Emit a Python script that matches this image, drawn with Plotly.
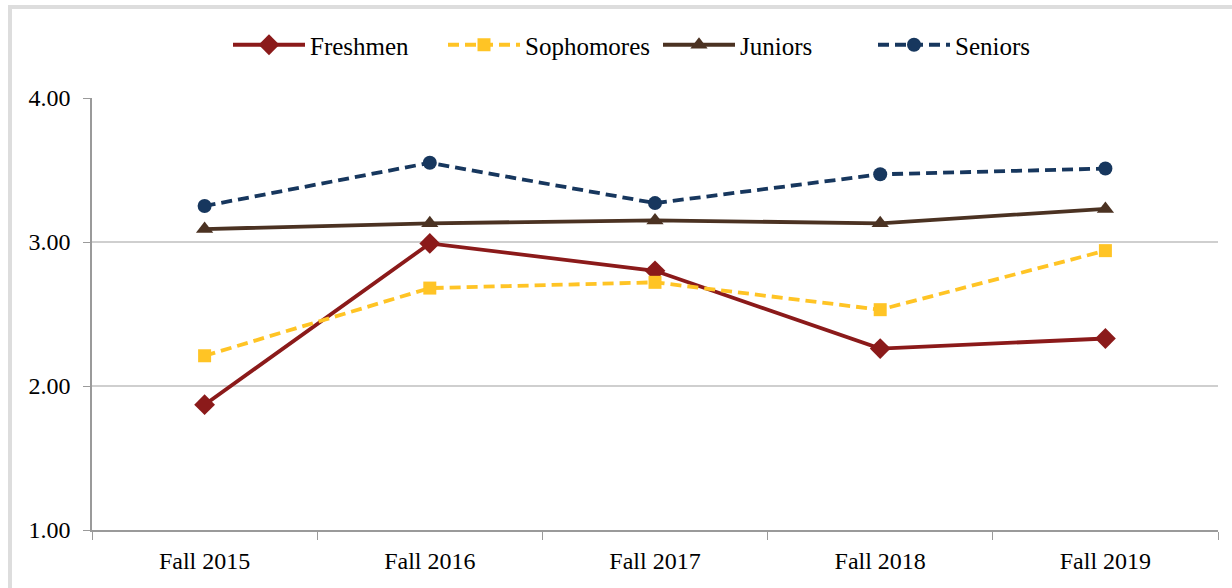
import plotly.graph_objects as go

categories = ["Fall 2015", "Fall 2016", "Fall 2017", "Fall 2018", "Fall 2019"]
freshmen = [1.87, 2.99, 2.80, 2.26, 2.33]
sophomores = [2.21, 2.68, 2.72, 2.53, 2.94]
juniors = [3.09, 3.13, 3.15, 3.13, 3.23]
seniors = [3.25, 3.55, 3.27, 3.47, 3.51]
y_ticks = [1.0, 2.0, 3.0, 4.0]
y_tick_labels = ["1.00", "2.00", "3.00", "4.00"]

FONT = "Liberation Serif"
W, H = 1232, 588
L, R, T, B = 92, 14, 98, 58
PW, PH = W - L - R, H - T - B

def px_x(p):
    return (p - L) / PW

def px_y(p):
    return (H - B - p) / PH

series = [
    ("Freshmen", freshmen, "#8B1A1A", "solid", "diamond", 16),
    ("Sophomores", sophomores, "#FFC425", "11px,6px", "square", 13),
    ("Juniors", juniors, "#4B3222", "solid", "triangle-up", 15),
    ("Seniors", seniors, "#17375E", "11px,6px", "circle", 14),
]

fig = go.Figure()
for name, vals, color, dash, sym, size in series:
    fig.add_trace(go.Scatter(
        x=categories, y=vals, name=name, mode="lines+markers",
        line=dict(color=color, width=3.8, dash=dash),
        marker=dict(symbol=sym, size=size, color=color, line=dict(width=0)),
    ))

fig.update_layout(
    width=W, height=H,
    margin=dict(l=L, r=R, t=T, b=B),
    paper_bgcolor="white", plot_bgcolor="white",
    font=dict(family=FONT, size=24, color="#000000"),
    showlegend=True,
    legend=dict(orientation="h", x=px_x(228), xanchor="left", y=px_y(45), yanchor="middle",
                font=dict(family=FONT, size=25, color="#000000"),
                itemwidth=72, entrywidth=128, entrywidthmode="pixels",
                tracegroupgap=0, bgcolor="rgba(0,0,0,0)"),
    xaxis=dict(type="category", tickson="boundaries", range=[-0.5, 4.5],
               showgrid=False, showline=True, linecolor="#9A9A9A", linewidth=1.5,
               ticks="outside", ticklen=8, tickcolor="#9A9A9A", tickwidth=1,
               ticklabelstandoff=8, tickfont=dict(family=FONT, size=24, color="#000")),
    yaxis=dict(range=[1, 4], tickvals=y_ticks, ticktext=y_tick_labels,
               showgrid=True, gridcolor="#CFCFCF", gridwidth=1.5,
               showline=True, linecolor="#9A9A9A", linewidth=1.5,
               ticks="outside", ticklen=7, tickcolor="#9A9A9A", tickwidth=1,
               ticklabelstandoff=8, zeroline=False,
               tickfont=dict(family=FONT, size=24, color="#000")),
    shapes=[dict(type="rect", xref="paper", yref="paper",
                 x0=px_x(10), x1=px_x(1245), y0=px_y(600), y1=px_y(7),
                 line=dict(color="#DDDDDD", width=4), fillcolor="rgba(0,0,0,0)", layer="below")],
)

fig.write_html("out.html", config={"displayModeBar": False},
               post_script="document.body.style.margin='0px';document.body.style.overflow='hidden';")
